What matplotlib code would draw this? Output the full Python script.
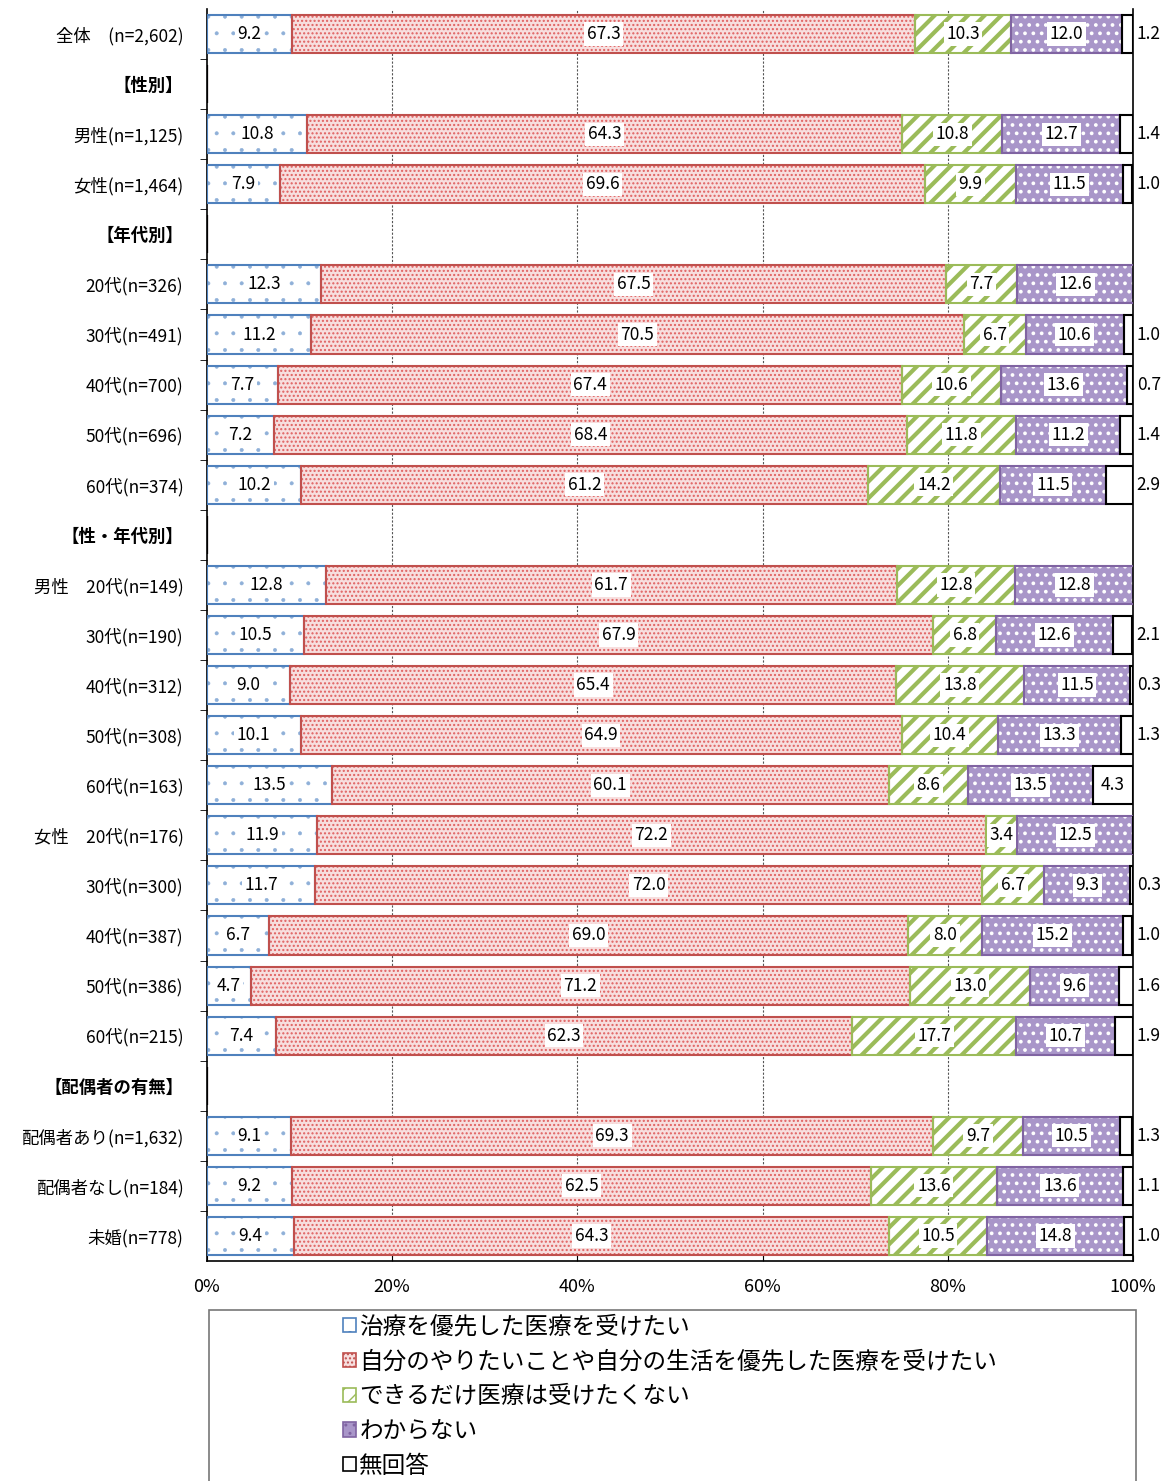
import matplotlib
matplotlib.use("Agg")
import matplotlib.pyplot as plt
import numpy as np
from matplotlib.patches import Patch, Rectangle

plt.rcParams['font.family'] = ['Noto Sans CJK JP', 'DejaVu Sans']

categories = ["全体　(n=2,602)", "【性別】", "男性(n=1,125)", "女性(n=1,464)", "【年代別】",
              "20代(n=326)", "30代(n=491)", "40代(n=700)", "50代(n=696)", "60代(n=374)",
              "【性・年代別】", "男性　20代(n=149)", "30代(n=190)", "40代(n=312)", "50代(n=308)",
              "60代(n=163)", "女性　20代(n=176)", "30代(n=300)", "40代(n=387)", "50代(n=386)",
              "60代(n=215)", "【配偶者の有無】", "配偶者あり(n=1,632)", "配偶者なし(n=184)", "未婚(n=778)"]
headers = {"【性別】", "【年代別】", "【性・年代別】", "【配偶者の有無】"}

series_names = ["治療を優先した医療を受けたい",
                "自分のやりたいことや自分の生活を優先した医療を受けたい",
                "できるだけ医療は受けたくない",
                "わからない",
                "無回答"]

nan = np.nan
treat_first = [9.2, nan, 10.8, 7.9, nan, 12.3, 11.2, 7.7, 7.2, 10.2, nan, 12.8, 10.5, 9.0, 10.1, 13.5,
               11.9, 11.7, 6.7, 4.7, 7.4, nan, 9.1, 9.2, 9.4]
life_first = [67.3, nan, 64.3, 69.6, nan, 67.5, 70.5, 67.4, 68.4, 61.2, nan, 61.7, 67.9, 65.4, 64.9, 60.1,
              72.2, 72.0, 69.0, 71.2, 62.3, nan, 69.3, 62.5, 64.3]
no_care = [10.3, nan, 10.8, 9.9, nan, 7.7, 6.7, 10.6, 11.8, 14.2, nan, 12.8, 6.8, 13.8, 10.4, 8.6,
           3.4, 6.7, 8.0, 13.0, 17.7, nan, 9.7, 13.6, 10.5]
unknown = [12.0, nan, 12.7, 11.5, nan, 12.6, 10.6, 13.6, 11.2, 11.5, nan, 12.8, 12.6, 11.5, 13.3, 13.5,
           12.5, 9.3, 15.2, 9.6, 10.7, nan, 10.5, 13.6, 14.8]
no_answer = [1.2, nan, 1.4, 1.0, nan, 0.0, 1.0, 0.7, 1.4, 2.9, nan, 0.0, 2.1, 0.3, 1.3, 4.3,
             0.0, 0.3, 1.0, 1.6, 1.9, nan, 1.3, 1.1, 1.0]

data = [treat_first, life_first, no_care, unknown, no_answer]

edge_colors = ["#4F81BD", "#C0504D", "#9BBB59", "#8064A2", "#000000"]
face_colors = ["white", "#f7dede", "white", "#a996c9", "white"]
hatch_colors = ["#8fb0d8", "#E06060", "#9BBB59", "white", "white"]
hatches = [".", "....", "//", "..", None]
hatch_lw = [0.4, 1.0, 3.0, 1.5, 1.0]

W, H = 1173, 1481
fig = plt.figure(figsize=(W / 100, H / 100), dpi=100)
ax = fig.add_axes([207 / W, 1 - 1261 / H, (1133 - 207) / W, (1261 - 9) / H])

y = np.arange(len(categories))
left = np.zeros(len(categories))
bh = 0.76

for i, vals in enumerate(data):
    v = np.nan_to_num(np.array(vals, dtype=float))
    with plt.rc_context({'hatch.linewidth': hatch_lw[i], 'hatch.color': hatch_colors[i]}):
        bars = ax.barh(y, v, left=left, height=bh, color=face_colors[i],
                       edgecolor=hatch_colors[i], linewidth=0, hatch=hatches[i], zorder=2)
        for b in bars:
            if hasattr(b, "set_hatch_linewidth"):
                b.set_hatch_linewidth(hatch_lw[i])
    ax.barh(y, v, left=left, height=bh, fill=False, edgecolor=edge_colors[i],
            linewidth=1.5, zorder=3)
    for j, val in enumerate(vals):
        if np.isnan(val) or val == 0:
            continue
        txt = f"{val:.1f}"
        if i == 4 and val < 4:
            ax.text(100.4, j, txt, ha="left", va="center", fontsize=12.5, zorder=5, clip_on=False)
        else:
            ax.text(left[j] + val / 2, j, txt, ha="center", va="center", fontsize=12.5, zorder=5,
                    bbox=dict(boxstyle="square,pad=0.15", facecolor="white", edgecolor="none"))
    left = left + v

ax.set_xlim(0, 100)
ax.set_ylim(len(categories) - 0.5, -0.5)
ax.set_xticks([0, 20, 40, 60, 80, 100])
ax.set_xticklabels(["0%", "20%", "40%", "60%", "80%", "100%"], fontsize=13)
ax.tick_params(axis="x", direction="in", length=4, pad=12)
ax.set_yticks(y)
ax.set_yticklabels(categories, fontsize=12.5)
for lab in ax.get_yticklabels():
    if lab.get_text() in headers:
        lab.set_fontweight("bold")
ax.tick_params(axis="y", which="major", length=0, pad=17)
ax.set_yticks(np.arange(len(categories) - 1) + 0.5, minor=True)
ax.tick_params(axis="y", which="minor", length=5, direction="out")

for xv in [20, 40, 60, 80]:
    ax.axvline(xv, color="#555555", linestyle=(0, (2, 1.5)), linewidth=0.8, zorder=1)
ax.spines["top"].set_visible(False)
for s in ["left", "right", "bottom"]:
    ax.spines[s].set_color("black")
    ax.spines[s].set_linewidth(1.2)

fig.patches.append(Rectangle((209 / W, -0.01), (1136 - 209) / W, (1 - 1310 / H) + 0.01,
                             transform=fig.transFigure, facecolor="white",
                             edgecolor="#777777", linewidth=1.2, zorder=0))
handles = []
for i in range(5):
    handles.append(Patch(facecolor=face_colors[i], edgecolor=edge_colors[i],
                         hatch=hatches[i], linewidth=1.2))
leg = fig.legend(handles, series_names, loc="upper left",
                 bbox_to_anchor=(334 / W, 1 - 1306 / H), frameon=False,
                 fontsize=17.0, handlelength=0.55, handleheight=0.55, handletextpad=0.12,
                 labelspacing=0.5, borderaxespad=0)

fig.savefig("out.png", dpi=100)
